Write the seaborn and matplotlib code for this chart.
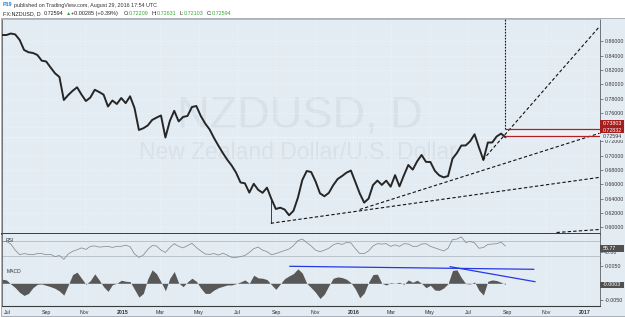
import matplotlib
matplotlib.use("Agg")
from datetime import datetime

import matplotlib.pyplot as plt
import pandas as pd
import seaborn as sns
from matplotlib.patches import Rectangle

W, H = 625, 317

# weekly samples, first bar 2014-06-23, last 2016-08-29
first_week = "2014-06-23"
close = [
    0.8689, 0.8689, 0.8710, 0.8697, 0.8620, 0.8480, 0.8448, 0.8438, 0.8410, 0.8330,
    0.8319, 0.8235, 0.8154, 0.8102, 0.7780, 0.7850, 0.7909, 0.7958, 0.7856, 0.7766,
    0.7815, 0.7923, 0.7892, 0.7855, 0.7689, 0.7773, 0.7724, 0.7808, 0.7736, 0.7832,
    0.7669, 0.7361, 0.7385, 0.7424, 0.7501, 0.7534, 0.7564, 0.7256, 0.7487, 0.7629,
    0.7481, 0.7543, 0.7557, 0.7682, 0.7696, 0.7557, 0.7452, 0.7369, 0.7249, 0.7141,
    0.7039, 0.6945, 0.6864, 0.6764, 0.6627, 0.6615, 0.6485, 0.6608, 0.6524, 0.6482,
    0.6554, 0.6396, 0.6256, 0.6274, 0.6248, 0.6168, 0.6231, 0.6414, 0.6662, 0.6787,
    0.6773, 0.6641, 0.6475, 0.6434, 0.6481, 0.6589, 0.6675, 0.6717, 0.6764, 0.6793,
    0.6634, 0.6473, 0.6345, 0.6401, 0.6590, 0.6653, 0.6593, 0.6652, 0.6568, 0.6729,
    0.6572, 0.6727, 0.6871, 0.6806, 0.6923, 0.7011, 0.6915, 0.6913, 0.6790, 0.6726,
    0.6698, 0.6717, 0.6959, 0.7039, 0.7143, 0.7145, 0.7203, 0.7301, 0.7115, 0.6941,
    0.7185, 0.7186, 0.7270, 0.7310, 0.72594,
]
rsi = [
    68, 68, 61, 45, 33, 36, 34, 33, 36, 36,
    33, 34, 28, 31, 21, 35, 42, 46, 51, 47,
    55, 56, 53, 54, 55, 52, 55, 55, 58, 54,
    35, 26, 32, 47, 57, 56, 45, 39, 52, 62,
    55, 51, 57, 63, 52, 43, 35, 34, 36, 32,
    37, 32, 26, 26, 28, 31, 39, 49, 53, 45,
    41, 33, 36, 40, 44, 48, 57, 70, 74, 65,
    56, 45, 41, 45, 50, 59, 63, 60, 65, 64,
    49, 36, 36, 43, 56, 62, 61, 62, 55, 59,
    55, 62, 61, 55, 55, 61, 62, 55, 51, 47,
    43, 50, 73, 74, 80, 65, 68, 64, 50, 52,
    60, 61, 62, 66, 55.77,
]
# MACD histogram in thousandths
macd = [
    1.2, 1.0, -0.2, -1.3, -2.7, -3.6, -3.0, -1.3, -0.3, -0.2,
    -0.6, -1.0, -1.5, -2.3, -3.5, -0.5, 2.6, 3.3, 1.5, -0.3,
    0.8, 2.8, 1.0, -1.0, -2.4, -0.4, 0.0, 0.9, 0.6, 0.5,
    -1.8, -4.1, -3.0, 1.3, 4.0, 2.8, 0.4, -2.2, 1.5, 3.5,
    0.1, -1.0, 0.4, 1.5, 0.6, -1.4, -3.0, -3.0, -2.0, -1.3,
    -0.9, -0.5, -0.5, -0.1, 0.4, 1.0, 0.0, 2.4, 1.6, 1.5,
    1.1, -0.4, -1.8, -0.2, 1.4, 2.2, 2.9, 4.3, 3.0, 0.0,
    -1.3, -2.7, -4.5, -3.2, -0.7, 1.5, 1.9, 1.7, 1.2, 0.2,
    -1.7, -4.3, -2.9, 0.3, 2.6, 2.7, 0.0, -0.5, 0.2, 0.0,
    0.3, -0.3, 1.0, 0.3, 0.9, 0.0, -1.3, -0.6, -2.0, -2.1,
    -1.4, -0.1, 3.8, 4.0, 1.7, -0.1, -0.2, 0.4, -2.1, -3.5,
    0.6, 1.0, 0.8, 0.3, -0.3,
]

# drawings on the chart (date, value)
fan_origin = ("2015-08-23", 0.6056)
fan_vertical_top = 0.6382
dashed_lines = [
    [("2015-08-23", 0.6056), ("2017-01-25", 0.6698)],
    [("2016-01-11", 0.6249), ("2017-01-25", 0.7315)],
    [("2016-07-24", 0.6941), ("2017-01-25", 0.8807)],
    [("2016-11-18", 0.5927), ("2017-01-25", 0.5969)],
]
target_levels = [0.73803, 0.72832]
macd_trendlines = [
    [("2015-09-22", 5.04), ("2016-10-13", 4.15)],
    [("2016-06-02", 4.93), ("2016-10-15", 0.47)],
]
last_date = "2016-08-29"
last_close = 0.72594
last_rsi = 55.77
last_macd = -0.3

month_ticks = ["2014-07-01", "2014-09-01", "2014-11-01", "2015-01-01", "2015-03-01",
               "2015-05-01", "2015-07-01", "2015-09-01", "2015-11-01", "2016-01-01",
               "2016-03-01", "2016-05-01", "2016-07-01", "2016-09-01", "2016-11-01",
               "2017-01-01"]
month_labels = ["Jul", "Sep", "Nov", "2015", "Mar", "May", "Jul", "Sep", "Nov", "2016",
                "Mar", "May", "Jul", "Sep", "Nov", "2017"]
price_ticks = [0.60, 0.62, 0.64, 0.66, 0.68, 0.70, 0.72, 0.74, 0.76, 0.78, 0.80, 0.82, 0.84, 0.86]
hidden_price_ticks = [0.74]  # covered by the level boxes on the scale

BG = "#e4ecf3"
GRID = "#f0f4f8"
TEXT = "#333333"
GREEN = "#3aa53a"
WATERMARK = "#d9e1e8"


def d(s):
    return datetime.strptime(s, "%Y-%m-%d")


dates = list(pd.date_range(first_week, periods=len(close), freq="7D").to_pydatetime())
x_left, x_right = d("2014-06-23"), d("2017-01-25")

sns.set_theme(style="white")
plt.rcParams["font.family"] = ["Liberation Sans", "DejaVu Sans"]

fig = plt.figure(figsize=(W / 100, H / 100), dpi=100, facecolor="white")
fig.patches.append(Rectangle((0.5 / W, 1 - 316 / H), 624 / W, 298 / H, transform=fig.transFigure,
                             fc=BG, ec="#9aa4ad", lw=0.6, zorder=-5))


def pane(top, bottom):
    ax = fig.add_axes([2 / W, 1 - bottom / H, 597.5 / W, (bottom - top) / H])
    ax.set_facecolor(BG)
    for s in ax.spines.values():
        s.set_color("#5a5f63")
        s.set_linewidth(0.6)
    ax.yaxis.tick_right()
    ax.tick_params(axis="y", labelsize=3.8, length=2, width=0.4, pad=1.5, colors=TEXT)
    ax.tick_params(axis="x", labelsize=3.8, length=1.5, width=0.4, pad=2, colors=TEXT)
    ax.set_xlim(x_left, x_right)
    ax.set_xticks([d(t) for t in month_ticks], labels=month_labels)
    ax.grid(True, color=GRID, lw=0.5, ls=(0, (2, 2)))
    return ax


def value_box(y, text, color, fg="white"):
    fig.patches.append(Rectangle((600 / W, 1 - (y + 3.2) / H), 24 / W, 6.4 / H,
                                 transform=fig.transFigure, fc=color, ec="none", zorder=5))
    fig.text(602.5 / W, 1 - y / H, text, color=fg, fontsize=3.8, va="center", zorder=6)


# main price pane
ax = pane(19, 233.5)
ax.tick_params(axis="x", labelbottom=False, length=0)
ax.set_ylim(0.5913, 0.8913)
ax.set_yticks(price_ticks, labels=["" if v in hidden_price_ticks else f"{v:.5f}" for v in price_ticks])
ax.spines["bottom"].set_linewidth(1.4)
ax.spines["bottom"].set_color("#3a3d40")
ax.spines["top"].set_color("#a9b3bb")

ax.text(300 / W, 1 - 128 / H, "NZDUSD, D", transform=fig.transFigure, ha="center", va="baseline",
        fontsize=32.5, color=WATERMARK, zorder=0.5)
ax.text(298 / W, 1 - 159 / H, "New Zealand Dollar/U.S. Dollar", transform=fig.transFigure,
        ha="center", va="baseline", fontsize=16.5, color=WATERMARK, zorder=0.5)

ax.axhline(last_close, color="white", lw=0.5, ls=(0, (2, 2)), zorder=1)
sns.lineplot(x=dates, y=close, ax=ax, color="#262626", linewidth=1.4, zorder=3)

ax.plot([d(fan_origin[0])] * 2, [fan_origin[1], fan_vertical_top], color="#222222", lw=0.6, zorder=4)
for (d0, p0), (d1, p1) in dashed_lines:
    ax.plot([d(d0), d(d1)], [p0, p1], color="#111111", lw=0.8, ls=(0, (3, 2)), zorder=4)
ax.plot([d(last_date)] * 2, [target_levels[0], 0.8913], color="#111111", lw=0.8,
        ls=(0, (1.5, 1.2)), zorder=4)
ax.fill_between([d(last_date), x_right], target_levels[1], target_levels[0], color="white",
                alpha=0.3, lw=0, zorder=2)
ax.hlines(target_levels, d(last_date), x_right, color="#b51f1f", lw=0.9, zorder=4)
ax.set_xlabel("")
ax.set_ylabel("")

# RSI pane
rax = pane(233.5, 263.3)
rax.tick_params(axis="x", labelbottom=False, length=0)
rax.set_ylim(10.5, 88.7)
rax.set_yticks([40], labels=["40.00"])
rax.grid(False, axis="y")
for lvl in (70, 30):
    rax.axhline(lvl, color="#aab3bb", lw=0.5)
sns.lineplot(x=dates, y=rsi, ax=rax, color="#8a8a8a", linewidth=0.55)
rax.spines["top"].set_visible(False)
rax.set_xlabel("")
rax.set_ylabel("")
rax.text(6 / W, 1 - 241 / H, "RSI", transform=fig.transFigure, fontsize=3.6, color=TEXT, va="center")

# MACD pane
max_ = pane(263.3, 305.5)
max_.set_ylim(-6.59, 5.93)
max_.set_yticks([5, -5], labels=["0.0050", "-0.0050"])
max_.grid(False, axis="y")
max_.spines["top"].set_visible(False)
max_.spines["bottom"].set_color("#3a3d40")
max_.spines["bottom"].set_linewidth(0.8)
max_.fill_between(dates, 0, macd, color="#585858", lw=0)
for (d0, v0), (d1, v1) in macd_trendlines:
    max_.plot([d(d0), d(d1)], [v0, v1], color="#2438e8", lw=0.9)
for lbl in max_.get_xticklabels():
    if lbl.get_text().isdigit():
        lbl.set_fontweight("bold")
max_.text(7 / W, 1 - 271.5 / H, "MACD", transform=fig.transFigure, fontsize=3.6, color=TEXT, va="center")

# price / indicator value boxes on the right scale
value_box(123.3, f"{target_levels[0]:.5f}", "#a51d1d")
value_box(130.1, f"{target_levels[1]:.5f}", "#a51d1d")
value_box(137.0, f"{last_close:.5f}", BG, fg=TEXT)
value_box(248.3, f"{last_rsi:.2f}", "#505050")
value_box(285.0, f"{last_macd / 1000:.4f}", "#505050")

# header
fig.text(2.7 / W, 1 - 5 / H, "P19", color="#1e7fd8", fontsize=3.9, va="center", fontweight="bold")
fig.text(14 / W, 1 - 5 / H, "published on TradingView.com, August 29, 2016 17:54 UTC",
         color=TEXT, fontsize=3.9, va="center")
header = [
    ("FX:NZDUSD, D", 2.7, "#222222"), ("0.72594", 44, "#222222"), ("\u25b2", 66, GREEN),
    ("+0.00285 (+0.39%)", 71, "#222222"), ("O:", 124, "#222222"), ("0.72209", 129, GREEN),
    ("H:", 152, "#222222"), ("0.72631", 157, GREEN), ("L:", 179, "#222222"),
    ("0.72103", 184, GREEN), ("C:", 207, "#222222"), ("0.72594", 212, GREEN),
]
for s, x, c in header:
    fig.text(x / W, 1 - 13.3 / H, s, color=c, fontsize=3.9, va="center")

fig.savefig("out.png", dpi=100, facecolor="white")
